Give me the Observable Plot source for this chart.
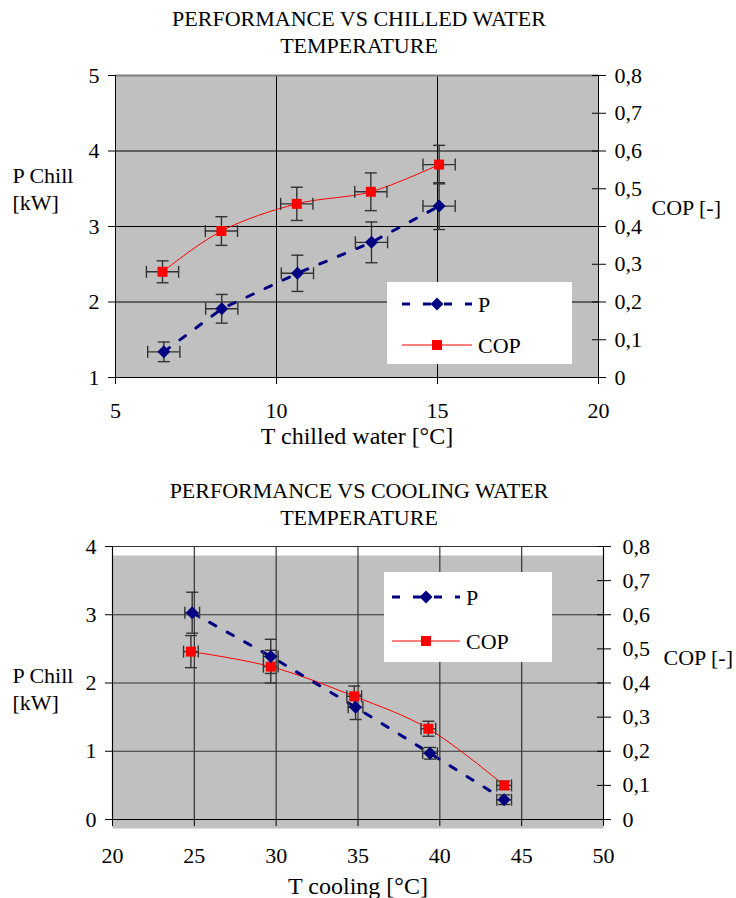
<!DOCTYPE html>
<html><head><meta charset="utf-8">
<script src="https://cdn.jsdelivr.net/npm/d3@7"></script>
<script src="https://cdn.jsdelivr.net/npm/@observablehq/plot@0.6"></script>
<style>
body{margin:0;background:#fff;font-family:"Liberation Serif",serif;color:#000}
#root{position:relative;width:736px;height:898px;overflow:hidden}
.title{width:718px;text-align:center;font-size:22px;line-height:27px;box-sizing:border-box}
#t1{height:62px;padding-top:5px}
#t2{height:84px;padding-top:27px}
svg{display:block}
.legend{position:absolute}
</style></head><body><div id="root">
<div class="title" id="t1">PERFORMANCE VS CHILLED WATER<br>TEMPERATURE</div>
<div id="c1"></div>
<div class="title" id="t2">PERFORMANCE VS COOLING WATER<br>TEMPERATURE</div>
<div id="c2"></div>
</div>
<script>
// ---------- data: chart 1 (chilled water) ----------
const chilledT_P   = [6.5, 8.3, 10.65, 12.95, 15.05];
const chilledP     = [1.34, 1.91, 2.38, 2.79, 3.27];
const chilledP_err = [0.13, 0.19, 0.24, 0.27, 0.31];
const chilledT_COP = [6.46, 8.29, 10.63, 12.93, 15.05];
const chilledCOP   = [0.28, 0.388, 0.46, 0.492, 0.564];
const chilledCOP_err = [0.029, 0.038, 0.044, 0.05, 0.051];
const chilledT_err = [0.5, 0.5, 0.5, 0.5, 0.5];
const chilledXTicks = [5, 10, 15, 20];
const chilledPTicks = [1, 2, 3, 4, 5];

// ---------- data: chart 2 (cooling water) ----------
const coolingT_P   = [24.87, 29.67, 34.85, 39.4, 43.93];
const coolingP     = [3.03, 2.39, 1.645, 0.97, 0.29];
const coolingP_err = [0.30, 0.25, 0.18, 0.085, 0.07];
const coolingT_COP = [24.79, 29.67, 34.77, 39.3, 43.93];
const coolingCOP   = [0.492, 0.448, 0.361, 0.266, 0.10];
const coolingCOP_err = [0.047, 0.048, 0.03, 0.022, 0.012];
const coolingT_err = [0.45, 0.45, 0.45, 0.45, 0.45];
const coolingXTicks = [20, 25, 30, 35, 40, 45, 50];
const coolingPTicks = [0, 1, 2, 3, 4];

const copTicks = [0, 0.1, 0.2, 0.3, 0.4, 0.5, 0.6, 0.7, 0.8];
const seriesNames = ["P", "COP"];

// ---------- symbols ----------
const rad = s => Math.sqrt(s / Math.PI);
const capH = {draw(c, s){const r = rad(s); c.moveTo(-r, 0); c.lineTo(r, 0);}};
const capV = {draw(c, s){const r = rad(s); c.moveTo(0, -r); c.lineTo(0, r);}};
const diamond = {draw(c, s){const r = rad(s); c.moveTo(0, -r); c.lineTo(r, 0); c.lineTo(0, r); c.lineTo(-r, 0); c.closePath();}};
const square = {draw(c, s){const r = rad(s); c.rect(-r, -r, 2 * r, 2 * r);}};

const NAVY = "#000080", RED = "#ff0000", EB = "#333";

function chart(cfg) {
  const toY = v => cfg.off + 5 * v;
  const P = cfg.tP.map((t, i) => ({x: t, y: cfg.p[i], e: cfg.pErr[i], xe: cfg.tErr[i]}));
  const C = cfg.tC.map((t, i) => ({x: t, y: toY(cfg.cop[i]), e: 5 * cfg.copErr[i], xe: cfg.tErr[i]}));
  const fmt = d => { const v = Math.round((d - cfg.off) / 5 * 10) / 10; return v === 0 ? "0" : String(v).replace(".", ","); };
  const eb = D => [
    Plot.ruleX(D, {x: "x", y1: d => d.y - d.e, y2: d => d.y + d.e, stroke: EB, strokeWidth: 1.4}),
    Plot.ruleY(D, {y: "y", x1: d => d.x - d.xe, x2: d => d.x + d.xe, stroke: EB, strokeWidth: 1.4}),
    Plot.dot(D, {x: "x", y: d => d.y - d.e, symbol: capH, r: 6, stroke: EB, strokeWidth: 1.4, fill: "none"}),
    Plot.dot(D, {x: "x", y: d => d.y + d.e, symbol: capH, r: 6, stroke: EB, strokeWidth: 1.4, fill: "none"}),
    Plot.dot(D, {x: d => d.x - d.xe, y: "y", symbol: capV, r: 6, stroke: EB, strokeWidth: 1.4, fill: "none"}),
    Plot.dot(D, {x: d => d.x + d.xe, y: "y", symbol: capV, r: 6, stroke: EB, strokeWidth: 1.4, fill: "none"})
  ];
  const copTickVals = copTicks.map(toY);
  const xd = [cfg.xTicks[0], cfg.xTicks[cfg.xTicks.length - 1]];
  const yd = [cfg.yTicks[0], cfg.yTicks[cfg.yTicks.length - 1]];
  return Plot.plot({
    width: 736, height: cfg.height,
    marginTop: cfg.mt, marginBottom: cfg.mb, marginLeft: cfg.ml, marginRight: cfg.mr,
    x: {domain: xd}, y: {domain: yd},
    style: {fontFamily: "Liberation Serif, serif", fontSize: "22px", color: "#000", background: "transparent", overflow: "visible"},
    marks: [
      Plot.frame({fill: "#c0c0c0", stroke: "none", dy: cfg.bgShift}),
      Plot.gridY(cfg.yTicks, {stroke: cfg.grid, strokeOpacity: 1, strokeWidth: cfg.gridW}),
      Plot.gridX(cfg.xTicks, {stroke: cfg.grid, strokeOpacity: 1, strokeWidth: cfg.gridW}),
      cfg.topGray ? Plot.ruleY([yd[1]], {stroke: "#808080", strokeWidth: 2}) : null,
      Plot.ruleX([xd[0], xd[1]], {stroke: "#000", strokeWidth: 1}),
      Plot.ruleY([yd[0]], {stroke: "#000", strokeWidth: 1}),
      Plot.axisX({ticks: cfg.xTicks, tickSize: 7, tickPadding: cfg.xPad, label: null, tickFormat: d => String(d)}),
      Plot.axisY({ticks: cfg.yTicks, tickSize: 7, tickPadding: 9, label: null, tickFormat: d => String(d)}),
      Plot.axisY({anchor: "right", ticks: copTickVals, tickSize: 14, dx: -7, tickPadding: cfg.rPad, label: null, tickFormat: fmt}),
      Plot.line(C, {x: "x", y: "y", stroke: RED, strokeWidth: 1, curve: "catmull-rom"}),
      Plot.line(P, {x: "x", y: "y", stroke: NAVY, strokeWidth: 3, strokeDasharray: "7,13"}),
      ...eb(C), ...eb(P),
      Plot.dot(C, {x: "x", y: "y", symbol: square, r: 5, fill: RED, stroke: "none"}),
      Plot.dot(P, {x: "x", y: "y", symbol: diamond, r: 6.5, fill: NAVY, stroke: "none"}),
      Plot.text(["P Chill\n[kW]"], {text: d => d, frameAnchor: "top-left", textAnchor: "start", lineAnchor: "middle", lineHeight: 1.23, dx: cfg.pLabDx, dy: cfg.pLabDy}),
      Plot.text(["COP [-]"], {text: d => d, frameAnchor: "top-right", textAnchor: "start", lineAnchor: "middle", dx: cfg.cLabDx, dy: cfg.cLabDy}),
      Plot.text([cfg.xLabel], {text: d => d, frameAnchor: "bottom", lineAnchor: "middle", fontSize: 24, dy: cfg.xLabDy})
    ]
  });
}

document.getElementById("c1").append(chart({
  tP: chilledT_P, p: chilledP, pErr: chilledP_err, tC: chilledT_COP, cop: chilledCOP, copErr: chilledCOP_err, tErr: chilledT_err,
  xTicks: chilledXTicks, yTicks: chilledPTicks, off: 1,
  height: 388, mt: 13, mb: 73, ml: 115, mr: 138, bgShift: 0, grid: "#000", gridW: 1, topGray: true,
  xPad: 18, rPad: 9, pLabDx: -103, pLabDy: 112, cLabDx: 53, cLabDy: 132, xLabel: "T chilled water [°C]", xLabDy: 59
}));
document.getElementById("c2").append(chart({
  tP: coolingT_P, p: coolingP, pErr: coolingP_err, tC: coolingT_COP, cop: coolingCOP, copErr: coolingCOP_err, tErr: coolingT_err,
  xTicks: coolingXTicks, yTicks: coolingPTicks, off: 0,
  height: 364, mt: 12, mb: 79, ml: 112, mr: 133, bgShift: 9, grid: "#333", gridW: 1.2, topGray: false,
  xPad: 21, rPad: 12, pLabDx: -100, pLabDy: 141, cLabDx: 60, cLabDy: 111, xLabel: "T cooling [°C]", xLabDy: 67
}));

// ---------- legends ----------
function legend(box) {
  const s = d3.create("svg").attr("class", "legend")
    .attr("width", box.w).attr("height", box.h)
    .style("left", box.x + "px").style("top", box.y + "px");
  s.append("rect").attr("width", box.w).attr("height", box.h).attr("fill", "#fff");
  const rows = [
    {name: seriesNames[0], y: box.r1, stroke: NAVY, sw: 3, dash: "8,13", sym: diamond, r: 6.5, fill: NAVY},
    {name: seriesNames[1], y: box.r2, stroke: RED, sw: 1, dash: null, sym: square, r: 5, fill: RED}
  ];
  for (const r of rows) {
    s.append("line").attr("x1", box.l1).attr("x2", box.l2).attr("y1", r.y).attr("y2", r.y)
      .attr("stroke", r.stroke).attr("stroke-width", r.sw).attr("stroke-dasharray", r.dash);
    s.append("path").attr("transform", `translate(${(box.l1 + box.l2) / 2},${r.y})`)
      .attr("d", d3.symbol(r.sym, r.r * r.r * Math.PI)()).attr("fill", r.fill);
    s.append("text").attr("x", box.tx).attr("y", r.y).attr("dy", "0.35em")
      .attr("font-family", "Liberation Serif, serif").attr("font-size", 22).text(r.name);
  }
  document.getElementById("root").append(s.node());
}
legend({x: 387, y: 282, w: 185, h: 82, r1: 22, r2: 63, l1: 15, l2: 85, tx: 91});
legend({x: 384, y: 572, w: 168, h: 90, r1: 25, r2: 69, l1: 8, l2: 76, tx: 82});
</script>
</body></html>
